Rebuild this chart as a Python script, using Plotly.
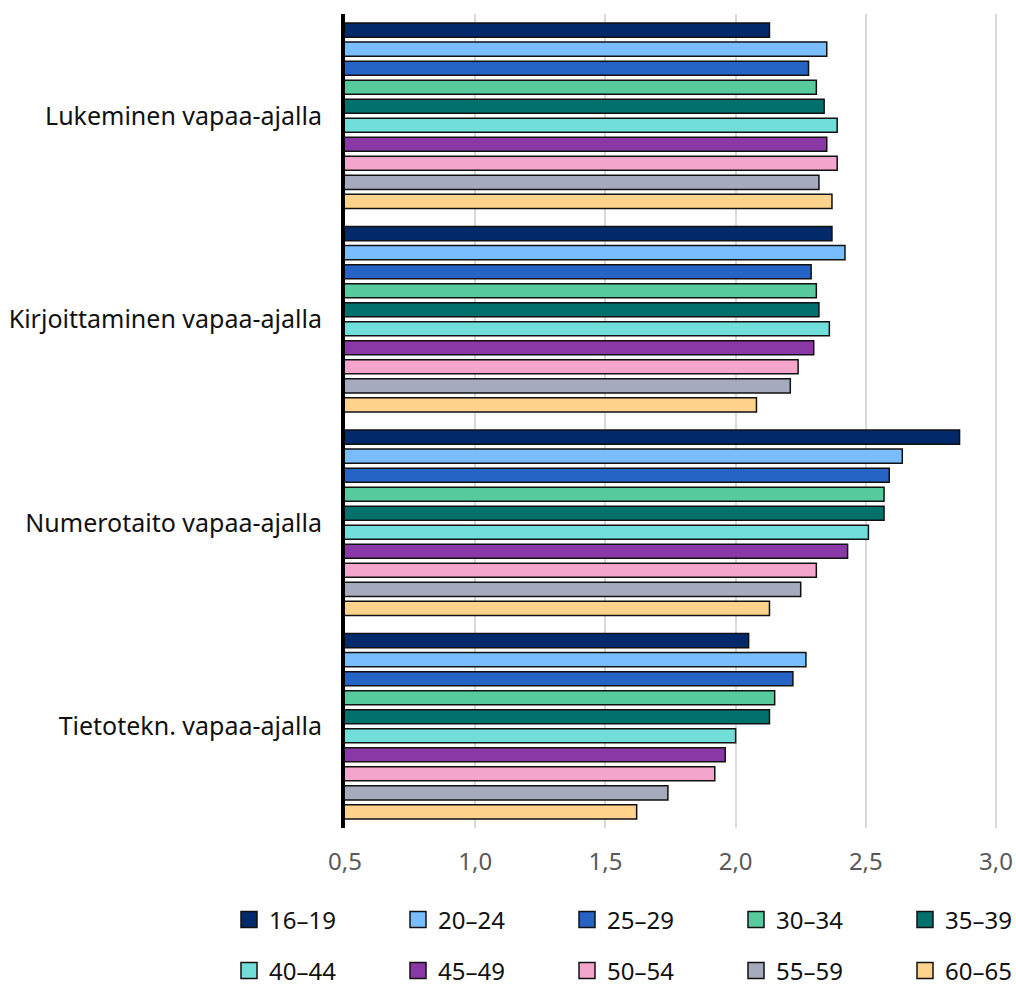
import plotly.graph_objects as go

categories = ["Lukeminen vapaa-ajalla", "Kirjoittaminen vapaa-ajalla",
              "Numerotaito vapaa-ajalla", "Tietotekn. vapaa-ajalla"]
age_groups = ["16–19", "20–24", "25–29", "30–34", "35–39",
              "40–44", "45–49", "50–54", "55–59", "60–65"]
colors = ["#022A6B", "#79BDFF", "#2563C4", "#57CB9D", "#01716E",
          "#72DED9", "#8A38A5", "#F3A5CC", "#A5AABC", "#FFD38B"]

# values per age group, in category order
v_16_19 = [2.13, 2.37, 2.86, 2.05]
v_20_24 = [2.35, 2.42, 2.64, 2.27]
v_25_29 = [2.28, 2.29, 2.59, 2.22]
v_30_34 = [2.31, 2.31, 2.57, 2.15]
v_35_39 = [2.34, 2.32, 2.57, 2.13]
v_40_44 = [2.39, 2.36, 2.51, 2.00]
v_45_49 = [2.35, 2.30, 2.43, 1.96]
v_50_54 = [2.39, 2.24, 2.31, 1.92]
v_55_59 = [2.32, 2.21, 2.25, 1.74]
v_60_65 = [2.37, 2.08, 2.13, 1.62]
values = [v_16_19, v_20_24, v_25_29, v_30_34, v_35_39,
          v_40_44, v_45_49, v_50_54, v_55_59, v_60_65]

FONT = "Noto Sans"
W, H = 1016, 987
fig = go.Figure()
for name, col, vals in zip(age_groups, colors, values):
    fig.add_trace(go.Bar(
        y=categories, x=vals, name=name, orientation="h",
        marker=dict(color=col, line=dict(color="#111111", width=1.5)),
        showlegend=False,
    ))

# legend: one small legend per entry, laid out in a 5x2 grid
legend_layouts = {}
for i, (name, col) in enumerate(zip(age_groups, colors)):
    key = "legend" if i == 0 else f"legend{i + 1}"
    fig.add_trace(go.Scatter(
        x=[None], y=[None], mode="markers", name=name,
        marker=dict(symbol="square", size=16, color=col,
                    line=dict(color="#111111", width=1.5)),
        legend=key,
    ))
    col_i, row_i = i % 5, i // 5
    legend_layouts[key] = dict(
        xref="container", yref="container",
        x=(229 + 169 * col_i) / W, xanchor="left",
        y=1 - (920 + 51 * row_i) / H, yanchor="middle",
        orientation="h", font=dict(family=FONT, size=24, color="#111111"),
        bgcolor="rgba(0,0,0,0)", itemclick=False, itemdoubleclick=False,
    )

fig.update_layout(
    width=W, height=H,
    margin=dict(l=345, r=8, t=14, b=159, autoexpand=False),
    plot_bgcolor="white", paper_bgcolor="white",
    barmode="group", bargap=0.065, bargroupgap=0.26,
    separators=", ",
    font=dict(family=FONT, size=24, color="#111111"),
    xaxis=dict(range=[0.5, 3.046], tickvals=[0.5, 1.0, 1.5, 2.0, 2.5, 3.0],
               tickformat=".1f", showgrid=True, gridcolor="#D9D9D9",
               gridwidth=2, zeroline=False, showline=False,
               tickfont=dict(family=FONT, size=24, color="#595959"),
               ticks="", ticklabelstandoff=17, ticklabeloverflow="allow"),
    yaxis=dict(autorange="reversed", showline=True, linecolor="black",
               linewidth=4, showgrid=False, ticks="",
               ticklabelstandoff=14,
               tickfont=dict(family=FONT, size=25, color="#111111")),
    **legend_layouts,
)
fig.write_html(
    "out.html",
    config={"displayModeBar": False},
    post_script="document.body.style.margin='0';"
                "document.body.style.overflow='hidden';",
)
